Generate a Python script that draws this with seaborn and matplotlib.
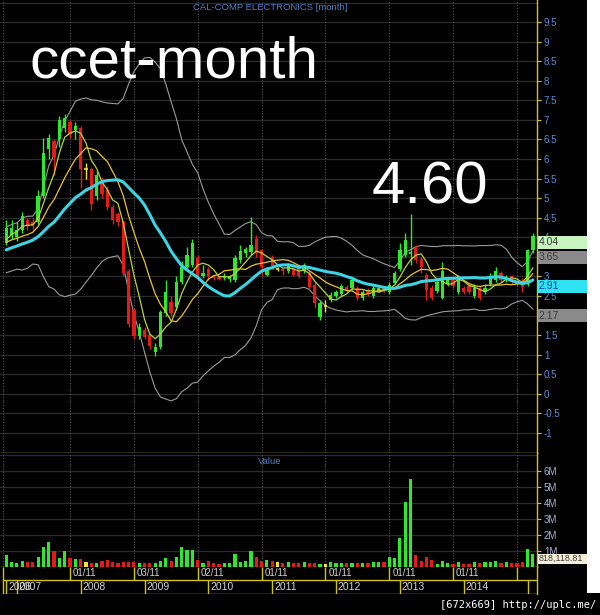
import numpy as np
import pandas as pd
import matplotlib
matplotlib.use("Agg")
import matplotlib.pyplot as plt
from matplotlib.patches import Rectangle
from matplotlib.transforms import blended_transform_factory
import seaborn as sns

sns.set_theme(style="dark")
plt.rcParams["font.family"] = ["Liberation Sans", "DejaVu Sans"]

# ---------------------------------------------------------------- data
# Monthly bars for CAL-COMP ELECTRONICS, Nov 2006 .. Feb 2015
opens = [3.85, 4.05, 4.00, 4.20, 4.45, 4.40, 4.40, 5.05, 6.25, 6.45,
         6.50, 6.80, 6.95, 6.75, 6.80, 5.75, 5.75, 5.05, 5.45, 5.20,
         4.77, 4.60, 4.39, 3.15, 2.14, 1.48, 1.62, 1.50, 1.06, 1.20,
         2.07, 2.35, 2.22, 2.86, 3.24, 3.30, 3.47, 3.00, 3.20, 3.02,
         2.98, 2.95, 2.93, 2.90, 3.42, 3.60, 3.62, 3.97, 3.67, 3.05,
         3.50, 3.20, 3.20, 3.15, 3.20, 3.27, 3.15, 3.10, 2.78, 1.97,
         2.25, 2.40, 2.50, 2.55, 2.72, 2.70, 2.70, 2.45, 2.65, 2.50,
         2.62, 2.72, 2.60, 2.83, 3.20, 3.55, 3.58, 3.72, 3.45, 3.03,
         2.70, 2.62, 2.45, 2.80, 2.90, 2.60, 2.70, 2.75, 2.50, 2.70,
         2.60, 2.80, 2.90, 3.10, 2.90, 3.00, 2.85, 2.88, 2.80, 3.67]
highs = [4.44, 4.45, 4.40, 4.65, 4.50, 4.50, 5.20, 6.55, 6.65, 6.50,
         7.10, 7.15, 7.00, 6.95, 6.85, 5.90, 5.80, 5.70, 5.55, 5.30,
         4.85, 4.65, 4.45, 3.20, 2.20, 1.80, 1.70, 1.55, 1.30, 2.15,
         2.90, 2.50, 3.00, 3.40, 3.75, 3.95, 3.55, 3.30, 3.25, 3.05,
         3.00, 3.10, 3.05, 3.55, 3.80, 3.75, 4.52, 4.05, 3.70, 3.25,
         3.55, 3.25, 3.22, 3.35, 3.25, 3.30, 3.35, 3.15, 2.85, 2.40,
         2.40, 2.60, 2.65, 2.80, 2.78, 2.95, 2.75, 2.65, 2.70, 2.75,
         2.75, 2.75, 2.85, 3.15, 3.85, 4.10, 4.60, 3.80, 3.50, 3.10,
         2.78, 2.95, 3.37, 2.95, 2.95, 3.05, 2.75, 2.80, 2.80, 2.75,
         2.80, 3.10, 3.25, 3.15, 3.05, 3.05, 2.90, 2.95, 3.70, 4.10]
lows = [3.80, 3.95, 3.90, 4.10, 4.20, 4.20, 4.35, 5.00, 6.00, 5.60,
        6.30, 6.70, 6.55, 6.50, 5.25, 5.50, 4.70, 4.95, 5.00, 4.70,
        4.35, 4.30, 3.00, 1.70, 1.40, 1.40, 1.40, 1.15, 0.98, 1.15,
        2.00, 2.00, 2.15, 2.80, 3.15, 3.25, 2.90, 2.95, 2.90, 2.90,
        2.90, 2.90, 2.85, 2.85, 3.35, 3.50, 3.55, 3.50, 3.00, 3.00,
        3.20, 3.15, 3.05, 3.10, 3.00, 2.95, 3.10, 2.65, 2.20, 1.90,
        2.10, 2.35, 2.45, 2.50, 2.60, 2.65, 2.40, 2.40, 2.50, 2.45,
        2.60, 2.60, 2.55, 2.80, 3.15, 3.50, 3.30, 3.35, 3.10, 2.40,
        2.40, 2.58, 2.42, 2.75, 2.70, 2.55, 2.55, 2.55, 2.45, 2.40,
        2.55, 2.75, 2.85, 2.85, 2.85, 2.80, 2.75, 2.60, 2.75, 3.60]
closes = [4.24, 4.25, 4.20, 4.55, 4.30, 4.30, 5.05, 6.15, 6.55, 6.05,
          7.00, 7.05, 6.65, 6.85, 5.75, 5.75, 4.85, 5.60, 5.12, 4.77,
          4.45, 4.40, 3.10, 1.78, 1.48, 1.70, 1.45, 1.22, 1.20, 2.08,
          2.60, 2.07, 2.86, 3.24, 3.55, 3.85, 2.96, 3.10, 3.00, 2.96,
          2.94, 3.00, 3.00, 3.48, 3.66, 3.70, 3.80, 3.60, 3.25, 3.20,
          3.27, 3.20, 3.15, 3.30, 3.05, 3.00, 3.30, 2.73, 2.31, 2.31,
          2.25, 2.52, 2.60, 2.75, 2.65, 2.90, 2.45, 2.60, 2.55, 2.70,
          2.70, 2.65, 2.78, 3.10, 3.67, 3.93, 3.62, 3.42, 3.25, 2.65,
          2.45, 2.85, 3.15, 2.90, 2.75, 3.00, 2.60, 2.60, 2.70, 2.45,
          2.70, 2.95, 3.15, 2.90, 2.95, 2.88, 2.80, 2.72, 3.67, 4.04]
# monthly volume, millions of shares
volume_m = [0.73, 0.31, 0.25, 0.38, 0.31, 0.31, 0.58, 1.25, 1.52, 0.98,
            0.52, 0.98, 0.56, 0.46, 0.46, 0.31, 0.25, 0.25, 0.38, 0.42,
            0.31, 0.21, 0.31, 0.31, 0.31, 0.25, 0.21, 0.21, 0.21, 0.38,
            0.52, 0.38, 0.58, 1.25, 1.04, 1.04, 0.42, 0.25, 0.35, 0.25,
            0.17, 0.25, 0.25, 0.79, 0.31, 0.35, 1.00, 0.63, 0.35, 0.42,
            0.35, 0.27, 0.25, 0.31, 0.25, 0.21, 0.27, 0.25, 0.25, 0.17,
            0.17, 0.31, 0.25, 0.25, 0.25, 0.25, 0.25, 0.21, 0.21, 0.27,
            0.27, 0.31, 0.58, 0.52, 1.77, 4.02, 5.48, 0.73, 0.35, 0.63,
            0.42, 0.17, 0.35, 0.25, 0.17, 0.31, 0.17, 0.17, 0.31, 0.25,
            0.27, 0.31, 0.38, 0.25, 0.27, 0.25, 0.21, 0.31, 1.10, 0.81811881]
# closes of the 19 months before Nov 2006 (seed the moving averages)
closes_before = [3.20, 3.30, 3.50, 3.40, 3.20, 3.30, 3.60, 3.80, 3.90, 3.70,
                 3.60, 3.80, 4.00, 3.90, 3.70, 3.60, 3.80, 3.90, 4.16]

year_labels = ["2006", "2007", "2008", "2009", "2010", "2011", "2012", "2013", "2014", ""]
year_starts = [0, 2, 14, 26, 38, 50, 62, 74, 86, 98]
nov_labels = ["01/11", "03/11", "02/11", "01/11", "01/11", "01/11", "01/11", ""]
nov_marks = [12, 24, 36, 48, 60, 72, 84, 96]
price_ticks = [-1, -0.5, 0, 0.5, 1, 1.5, 2, 2.5, 3, 3.5, 4, 4.5, 5, 5.5, 6,
               6.5, 7, 7.5, 8, 8.5, 9, 9.5]
vol_ticks = [1, 2, 3, 4, 5, 6]

# ---------------------------------------------------------------- styling
GREEN, RED, DOJI = "#2ee82e", "#e41b1b", "#f2e23c"
YEL = "#cfc21a"
BLUE = "#5b8ed8"
GRID = "#2b2b2b"
VGRID = "#555555"

W, H = 600, 615
fig = plt.figure(figsize=(W / 100, H / 100), dpi=100, facecolor="black")


def rect(x0, y0, x1, y1):
    return [x0 / W, 1 - y1 / H, (x1 - x0) / W, (y1 - y0) / H]


ax_p = fig.add_axes(rect(0, 0, 537, 453))
ax_v = fig.add_axes(rect(0, 453, 537, 566.7))
ax_d = fig.add_axes(rect(0, 566.7, 537, 594))

x_lo, x_hi = -6.2 / 5.32, (537 - 6.2) / 5.32
for ax in (ax_p, ax_v, ax_d):
    ax.set_facecolor("black")
    ax.grid(False)
    ax.set_xlim(x_lo, x_hi)
    for s in ("top", "left"):
        ax.spines[s].set_visible(False)
    ax.spines["right"].set_color(YEL)
    ax.spines["bottom"].set_color(YEL)
    ax.spines["right"].set_linewidth(1)
    ax.spines["bottom"].set_linewidth(1)
    ax.tick_params(axis="x", bottom=False, labelbottom=False)

ax_p.set_ylim(-1.51, 10.064)
ax_v.set_ylim(0, 7.106)

# ---------------------------------------------------------------- grids
for v in np.arange(-1.5, 10.01, 0.5):
    ax_p.axhline(v, color=GRID, lw=0.9, zorder=0)
for v in range(1, 8):
    ax_v.axhline(v, color=GRID, lw=0.9, zorder=0)
for ax in (ax_p, ax_v):
    for m in nov_marks:
        ax.axvline(m, color=VGRID, lw=0.8, ls=(0, (1, 1.5)), zorder=0)
    ax.axvline(-0.6, color=VGRID, lw=0.8, ls=(0, (1, 1.5)), zorder=0)

# ---------------------------------------------------------------- candles
idx = np.arange(len(closes))
o, h, l, c = (np.array(a, dtype=float) for a in (opens, highs, lows, closes))
col = np.where(c > o, GREEN, np.where(c < o, RED, DOJI))
ax_p.vlines(idx, l, h, colors=col, lw=1, zorder=3)
body = c != o
ax_p.bar(idx[body], np.abs(c - o)[body], bottom=np.minimum(o, c)[body],
         width=0.62, color=col[body], lw=0, zorder=4)
ax_p.hlines(c[~body], idx[~body] - 0.35, idx[~body] + 0.35,
            colors=col[~body], lw=1.2, zorder=4)

# ---------------------------------------------------------------- indicators
full = pd.Series(closes_before + closes, dtype=float)
n0 = len(closes_before)
ma20 = full.rolling(20).mean().to_numpy()[n0:]
sd20 = full.rolling(20).std(ddof=0).to_numpy()[n0:]
upper, lower = ma20 + 2 * sd20, ma20 - 2 * sd20
ma5 = full.rolling(5).mean().to_numpy()[n0:]
ma10 = full.rolling(10).mean().to_numpy()[n0:]

for band in (upper, lower):
    sns.lineplot(x=idx, y=band, ax=ax_p, color="#9b9b9b", linewidth=0.8, zorder=2)
sns.lineplot(x=idx, y=ma10, ax=ax_p, color="#e8c23a", linewidth=0.9, zorder=5)
sns.lineplot(x=idx, y=ma5, ax=ax_p, color="#b6d43a", linewidth=0.9, zorder=5)
sns.lineplot(x=idx, y=ma20, ax=ax_p, color="#3cd3e4", linewidth=2.2, zorder=5)
ax_p.set_xlabel("")
ax_p.set_ylabel("")

# ---------------------------------------------------------------- volume
ax_v.bar(idx, volume_m, width=0.6, color=col, lw=0, zorder=3)

# ---------------------------------------------------------------- right axes
ax_p.yaxis.tick_right()
ax_p.set_yticks(price_ticks)
ax_p.set_yticklabels([f"{t:g}" for t in price_ticks])
ax_p.tick_params(axis="y", colors=YEL, labelcolor=BLUE, labelsize=7,
                 length=3, width=0.8, pad=2, right=True, left=False)
ax_v.yaxis.tick_right()
ax_v.set_yticks(vol_ticks)
ax_v.set_yticklabels([f"{t}M" for t in vol_ticks])
ax_v.tick_params(axis="y", colors=YEL, labelcolor="#a9b6d2", labelsize=7,
                 length=3, width=0.8, pad=2, right=True, left=False)
ax_d.set_yticks([])

# value tags on the right edge
tr_p = blended_transform_factory(fig.transFigure, ax_p.transData)
tr_v = blended_transform_factory(fig.transFigure, ax_v.transData)


def value_tag(ax, tr, value, text, face, fg, h_units, size=7.5):
    ax.add_patch(Rectangle((537.5 / W, value - h_units), 49.5 / W, h_units,
                           transform=tr, facecolor=face, edgecolor="none",
                           clip_on=False, zorder=8))
    ax.text(538.5 / W, value - h_units / 2, text, transform=tr, color=fg,
            fontsize=size, va="center", ha="left", clip_on=False, zorder=9)


ph = 13 / 39.14
value_tag(ax_p, tr_p, c[-1], f"{c[-1]:.2f}", "#c8f4c0", "#3a3a3a", ph)
value_tag(ax_p, tr_p, upper[-1], f"{upper[-1]:.2f}", "#8a8a8a", "#3a3a3a", ph)
value_tag(ax_p, tr_p, ma20[-1], f"{ma20[-1]:.2f}", "#2fe2f2", "#1f3c9a", ph)
value_tag(ax_p, tr_p, lower[-1], f"{lower[-1]:.2f}", "#8a8a8a", "#3a3a3a", ph)
value_tag(ax_v, tr_v, volume_m[-1], f"{volume_m[-1] * 1e6:,.2f}", "#f4efd4",
          "#3a3a3a", 10 / 16, size=6.4)

# ---------------------------------------------------------------- date rows
ax_d.set_ylim(0, 27.3)
ax_d.spines["bottom"].set_visible(False)
ax_d.hlines([14, 0.5], -0.6, x_hi, colors=YEL, lw=1, zorder=3)
ax_d.vlines([-0.6], 0.5, 27.3, colors=YEL, lw=1, zorder=3)
ax_d.vlines(nov_marks, 14, 27.3, colors=YEL, lw=1, zorder=3)
ax_d.vlines(year_starts, 0.5, 14, colors=YEL, lw=1, zorder=3)
for m, t in zip(nov_marks, nov_labels):
    ax_d.text(m + 0.55, 20.6, t, color="#d4d4d4", fontsize=7, va="center", ha="left")
for m, t in zip(year_starts, year_labels):
    ax_d.text(m + 0.35, 7.2, t, color="#d4d4d4", fontsize=7.5, va="center", ha="left")

# ---------------------------------------------------------------- texts
fig.text(270 / W, 1 - 8 / H, "CAL-COMP ELECTRONICS [month]", color="#4f7fc8",
         fontsize=6.8, ha="center", va="center")
fig.text(270 / W, 1 - 461 / H, "Value", color="#4f7fc8", fontsize=6.8,
         ha="center", va="center")
fig.text(29 / W, 1 - 78 / H, "ccet-month", color="white", fontsize=42,
         ha="left", va="baseline")
fig.text(372 / W, 1 - 203 / H, f"{h[76]:.2f}", color="white", fontsize=43,
         ha="left", va="baseline")

fig.add_artist(Rectangle((587 / W, 1 - 593 / H), 13 / W, 593 / H,
                         transform=fig.transFigure, facecolor="white",
                         edgecolor="none"))
fig.text(596 / W, 1 - 605 / H, "[672x669] http://uplc.me/", color="white",
         fontsize=7.5, ha="right", va="center", family="DejaVu Sans Mono")

fig.savefig("out.png", dpi=100, facecolor="black")
